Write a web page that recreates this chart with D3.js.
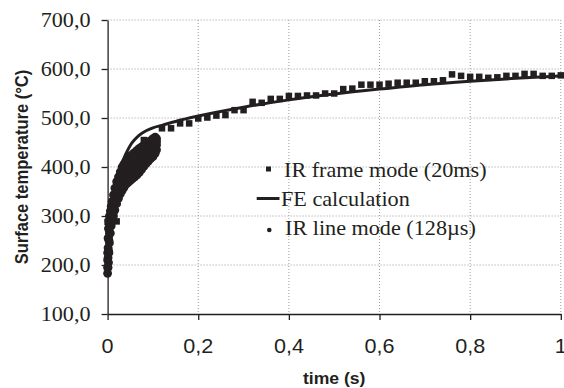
<!DOCTYPE html>
<html lang="en">
<head>
    <meta charset="UTF-8">
    <title>Surface temperature vs time</title>
    <script src="https://d3js.org/d3.v7.min.js"></script>
    <style>
        body { margin: 0; background: #fff; }
        .grid line { stroke: #9a9a9a; stroke-width: 1; stroke-dasharray: 1,2; }
    </style>
</head>
<body>
    <svg width="564" height="388"></svg>
    <script>
        // FE calculation curve
        const feTime = [0, 0.003, 0.006, 0.01, 0.013, 0.016, 0.02, 0.025, 0.03, 0.035, 0.042, 0.05, 0.06, 0.07,
            0.085, 0.1, 0.12, 0.15, 0.2, 0.3, 0.4, 0.5, 0.6, 0.7, 0.8, 0.9, 1.0];
        const feTemp = [180, 220, 255, 285, 305, 335, 360, 385, 400, 415, 430, 444, 456, 465,
            474, 480, 485, 493, 504, 522, 537, 549, 559, 568, 575, 581, 586];

        // IR frame mode (20ms)
        const frameTime = [0, 0.02, 0.04, 0.06, 0.08, 0.10, 0.12, 0.14, 0.16, 0.18, 0.20, 0.22, 0.24, 0.26,
            0.28, 0.30, 0.32, 0.34, 0.36, 0.38, 0.40, 0.42, 0.44, 0.46, 0.48, 0.50, 0.52, 0.54, 0.56, 0.58,
            0.60, 0.62, 0.64, 0.66, 0.68, 0.70, 0.72, 0.74, 0.76, 0.78, 0.80, 0.82, 0.84, 0.86, 0.88, 0.90,
            0.92, 0.94, 0.96, 0.98, 1.00];
        const frameTemp = [288, 289, 392, 412, 455, 455, 479, 479, 489, 489, 499, 501, 505, 506,
            516, 516, 533, 531, 539, 539, 545, 545, 546, 546, 550, 550, 559, 560, 568, 568,
            568, 570, 572, 572, 572, 575, 575, 577, 589, 586, 584, 584, 582, 583, 586, 586,
            590, 590, 586, 586, 587];

        // IR line mode (128µs): band, four rows from lower to upper edge
        const lineTime = [0, 0.001, 0.002, 0.003, 0.004, 0.006, 0.008, 0.010, 0.013, 0.016, 0.020, 0.024,
            0.028, 0.032, 0.036, 0.040, 0.045, 0.050, 0.055, 0.060, 0.065, 0.070, 0.075, 0.080,
            0.085, 0.090, 0.095, 0.100, 0.105, 0.108];
        const lineLow = [183, 195, 205, 225, 245, 265, 280, 290, 300, 312, 325, 336,
            345, 352, 358, 364, 368, 372, 376, 380, 384, 389, 395, 401,
            407, 412, 417, 421, 428, 435];
        const lineQ1 = [195, 215, 230, 250, 265, 280, 293, 303, 315, 327, 340, 350,
            360, 368, 375, 382, 386, 391, 396, 400, 404, 408, 413, 418,
            423, 427, 431, 435, 440, 445];
        const lineQ2 = [210, 235, 255, 272, 285, 296, 306, 316, 330, 343, 355, 366,
            376, 385, 392, 399, 404, 410, 414, 418, 422, 426, 431, 436,
            440, 443, 446, 450, 452, 452];
        const lineHigh = [225, 255, 275, 290, 300, 310, 320, 330, 343, 357, 370, 380,
            390, 400, 406, 412, 418, 422, 426, 430, 434, 438, 441, 444,
            448, 451, 454, 458, 461, 458];

        const yTicks = [100, 200, 300, 400, 500, 600, 700];
        const xTicks = [0, 0.2, 0.4, 0.6, 0.8, 1];

        const ink = "#231f20";
        const serif = "'Liberation Serif', 'Times New Roman', Times, serif";
        const sans = "'Liberation Sans', Arial, Helvetica, sans-serif";
        const svg = d3.select("svg");

        const x = d3.scaleLinear().domain([0, 1]).range([107.6, 560.8]);
        const y = d3.scaleLinear().domain([100, 700]).range([314, 20]);

        const comma = d3.formatLocale({ decimal: ",", thousands: ".", grouping: [3], currency: ["", ""] });
        const fmtY = comma.format(".1f");
        const fmtX = d => (d === 0 || d === 1) ? String(d) : comma.format(".1f")(d);

        // gridlines
        const grid = svg.append("g").attr("class", "grid");
        grid.selectAll(".h").data(yTicks.filter(d => d > 100)).enter().append("line")
            .attr("x1", x(0)).attr("x2", x(1))
            .attr("y1", d => y(d)).attr("y2", d => y(d));
        grid.selectAll(".v").data(xTicks.filter(d => d > 0)).enter().append("line")
            .attr("x1", d => x(d)).attr("x2", d => x(d))
            .attr("y1", y(700)).attr("y2", y(100));

        // axes (tick lines only, labels drawn separately)
        svg.append("g").attr("transform", `translate(0,${y(100)})`)
            .call(d3.axisBottom(x).tickValues(xTicks).tickSize(6).tickSizeOuter(0).tickFormat(""))
            .call(g => g.selectAll("line, path").attr("stroke", ink).attr("stroke-width", 1.3));
        svg.append("g").attr("transform", `translate(${x(0)},0)`)
            .call(d3.axisLeft(y).tickValues(yTicks).tickSize(6).tickSizeOuter(0).tickFormat(""))
            .call(g => g.selectAll("line, path").attr("stroke", ink).attr("stroke-width", 1.3));

        // tick labels
        svg.append("g").selectAll("text").data(yTicks).enter().append("text")
            .attr("font-family", serif).attr("fill", ink)
            .attr("text-anchor", "end")
            .attr("font-size", 20.5)
            .attr("dy", "0.34em")
            .attr("transform", d => `translate(90.5,${y(d)}) scale(1.08,1)`)
            .text(d => fmtY(d));
        svg.append("g").selectAll("text").data(xTicks).enter().append("text")
            .attr("font-family", sans).attr("fill", ink)
            .attr("text-anchor", "middle")
            .attr("font-size", 20)
            .attr("transform", d => `translate(${x(d)},352.7) scale(1.08,1)`)
            .text(d => fmtX(d));

        // axis titles
        svg.append("text")
            .attr("font-family", sans).attr("fill", ink)
            .attr("font-weight", "bold").attr("font-size", 16)
            .attr("text-anchor", "middle")
            .attr("transform", `translate(${(x(0) + x(1)) / 2},383.5) scale(1.1,1)`)
            .text("time (s)");
        svg.append("text")
            .attr("font-family", sans).attr("fill", ink)
            .attr("font-weight", "bold").attr("font-size", 16.5)
            .attr("text-anchor", "middle")
            .attr("transform", `translate(27.5,${(y(100) + y(700)) / 2}) scale(1.15,1) rotate(-90)`)
            .text("Surface temperature (°C)");

        // IR line mode dots
        const dots = [];
        lineTime.forEach((t, i) => {
            dots.push([t, lineLow[i]], [t, lineQ1[i]], [t, lineQ2[i]], [t, lineHigh[i]]);
        });
        svg.append("g").selectAll("circle").data(dots).enter().append("circle")
            .attr("cx", d => x(d[0])).attr("cy", d => y(d[1]))
            .attr("r", 4.4).attr("fill", ink);

        // IR frame mode squares
        const sq = 6.5;
        svg.append("g").selectAll("rect").data(frameTime).enter().append("rect")
            .attr("x", d => x(d) - sq / 2)
            .attr("y", (d, i) => y(frameTemp[i]) - sq / 2)
            .attr("width", sq).attr("height", sq)
            .attr("fill", ink);

        // FE curve
        const feLine = d3.line().curve(d3.curveMonotoneX)
            .x((d, i) => x(feTime[i])).y(d => y(d));
        svg.append("path").datum(feTemp)
            .attr("d", feLine)
            .attr("fill", "none").attr("stroke", ink).attr("stroke-width", 3);

        // legend
        const legend = svg.append("g");
        legend.append("rect").attr("x", 266).attr("y", 166.5).attr("width", 5).attr("height", 5).attr("fill", ink);
        legend.append("line").attr("x1", 256.7).attr("x2", 279.5).attr("y1", 198.5).attr("y2", 198.5)
            .attr("stroke", ink).attr("stroke-width", 3);
        legend.append("circle").attr("cx", 269.3).attr("cy", 230).attr("r", 2.3).attr("fill", ink);
        const legendText = [["IR frame mode (20ms)", 284, 176.5], ["FE calculation", 281, 205.5], ["IR line mode (128µs)", 285, 234.5]];
        legend.selectAll("text").data(legendText).enter().append("text")
            .attr("font-family", serif).attr("fill", ink).attr("font-size", 20)
            .attr("transform", d => `translate(${d[1]},${d[2]}) scale(1.11,1)`)
            .text(d => d[0]);
    </script>
</body>
</html>
